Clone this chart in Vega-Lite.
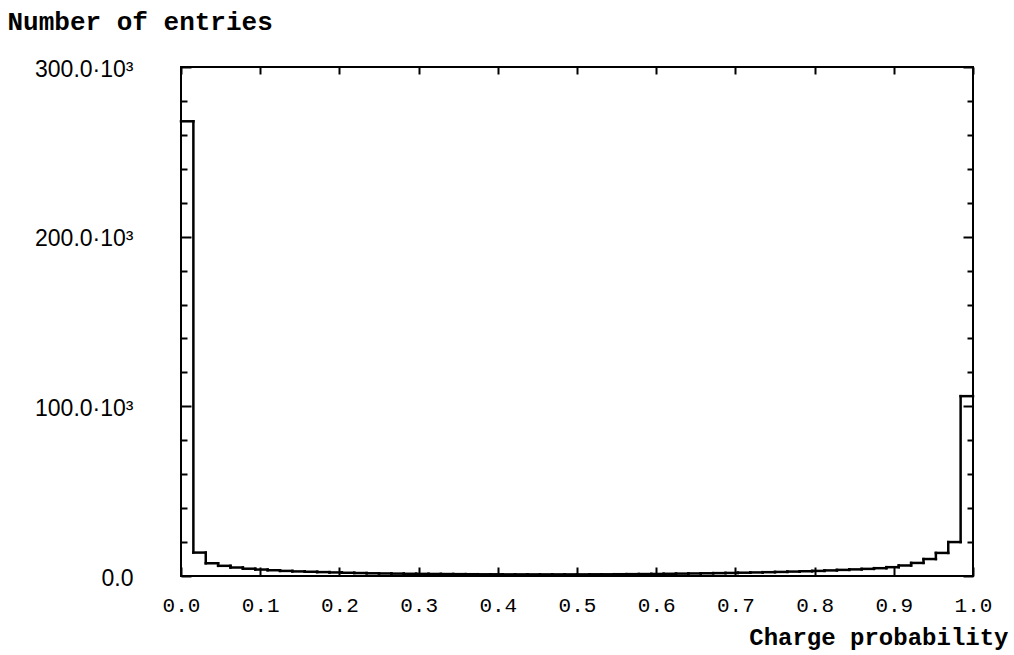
{
  "$schema": "https://vega.github.io/schema/vega-lite/v6.json",
  "width": 792,
  "height": 509,
  "autosize": {"type": "none"},
  "padding": {"left": 181, "top": 67, "right": 41, "bottom": 79},
  "background": "white",
  "config": {
    "view": {"stroke": "black", "strokeWidth": 2},
    "axis": {
      "domain": false,
      "grid": false,
      "tickColor": "black",
      "tickWidth": 2,
      "labelColor": "black",
      "titleColor": "black",
      "labelFont": "Liberation Mono",
      "titleFont": "Liberation Mono",
      "labelFontWeight": "normal",
      "titleFontWeight": "bold"
    }
  },
  "data": {
    "values": [
      {"lo": 0, "hi": 0.015625, "n": 268000},
      {"lo": 0.015625, "hi": 0.03125, "n": 13800},
      {"lo": 0.03125, "hi": 0.046875, "n": 7500},
      {"lo": 0.046875, "hi": 0.0625, "n": 6000},
      {"lo": 0.0625, "hi": 0.078125, "n": 5000},
      {"lo": 0.078125, "hi": 0.09375, "n": 4300},
      {"lo": 0.09375, "hi": 0.109375, "n": 3800},
      {"lo": 0.109375, "hi": 0.125, "n": 3400},
      {"lo": 0.125, "hi": 0.140625, "n": 3000},
      {"lo": 0.140625, "hi": 0.15625, "n": 2700},
      {"lo": 0.15625, "hi": 0.171875, "n": 2500},
      {"lo": 0.171875, "hi": 0.1875, "n": 2300},
      {"lo": 0.1875, "hi": 0.203125, "n": 2100},
      {"lo": 0.203125, "hi": 0.21875, "n": 1900},
      {"lo": 0.21875, "hi": 0.234375, "n": 1750},
      {"lo": 0.234375, "hi": 0.25, "n": 1600},
      {"lo": 0.25, "hi": 0.265625, "n": 1500},
      {"lo": 0.265625, "hi": 0.28125, "n": 1400},
      {"lo": 0.28125, "hi": 0.296875, "n": 1300},
      {"lo": 0.296875, "hi": 0.3125, "n": 1250},
      {"lo": 0.3125, "hi": 0.328125, "n": 1200},
      {"lo": 0.328125, "hi": 0.34375, "n": 1150},
      {"lo": 0.34375, "hi": 0.359375, "n": 1100},
      {"lo": 0.359375, "hi": 0.375, "n": 1050},
      {"lo": 0.375, "hi": 0.390625, "n": 1000},
      {"lo": 0.390625, "hi": 0.40625, "n": 1000},
      {"lo": 0.40625, "hi": 0.421875, "n": 950},
      {"lo": 0.421875, "hi": 0.4375, "n": 950},
      {"lo": 0.4375, "hi": 0.453125, "n": 950},
      {"lo": 0.453125, "hi": 0.46875, "n": 950},
      {"lo": 0.46875, "hi": 0.484375, "n": 950},
      {"lo": 0.484375, "hi": 0.5, "n": 950},
      {"lo": 0.5, "hi": 0.515625, "n": 950},
      {"lo": 0.515625, "hi": 0.53125, "n": 1000},
      {"lo": 0.53125, "hi": 0.546875, "n": 1000},
      {"lo": 0.546875, "hi": 0.5625, "n": 1050},
      {"lo": 0.5625, "hi": 0.578125, "n": 1100},
      {"lo": 0.578125, "hi": 0.59375, "n": 1150},
      {"lo": 0.59375, "hi": 0.609375, "n": 1200},
      {"lo": 0.609375, "hi": 0.625, "n": 1300},
      {"lo": 0.625, "hi": 0.640625, "n": 1400},
      {"lo": 0.640625, "hi": 0.65625, "n": 1500},
      {"lo": 0.65625, "hi": 0.671875, "n": 1600},
      {"lo": 0.671875, "hi": 0.6875, "n": 1700},
      {"lo": 0.6875, "hi": 0.703125, "n": 1800},
      {"lo": 0.703125, "hi": 0.71875, "n": 1950},
      {"lo": 0.71875, "hi": 0.734375, "n": 2100},
      {"lo": 0.734375, "hi": 0.75, "n": 2250},
      {"lo": 0.75, "hi": 0.765625, "n": 2400},
      {"lo": 0.765625, "hi": 0.78125, "n": 2600},
      {"lo": 0.78125, "hi": 0.796875, "n": 2800},
      {"lo": 0.796875, "hi": 0.8125, "n": 3000},
      {"lo": 0.8125, "hi": 0.828125, "n": 3300},
      {"lo": 0.828125, "hi": 0.84375, "n": 3600},
      {"lo": 0.84375, "hi": 0.859375, "n": 3900},
      {"lo": 0.859375, "hi": 0.875, "n": 4200},
      {"lo": 0.875, "hi": 0.890625, "n": 4600},
      {"lo": 0.890625, "hi": 0.90625, "n": 5200},
      {"lo": 0.90625, "hi": 0.921875, "n": 6200},
      {"lo": 0.921875, "hi": 0.9375, "n": 7700},
      {"lo": 0.9375, "hi": 0.953125, "n": 10000},
      {"lo": 0.953125, "hi": 0.96875, "n": 13600},
      {"lo": 0.96875, "hi": 0.984375, "n": 20000},
      {"lo": 0.984375, "hi": 1, "n": 106000}
    ]
  },
  "transform": [
    {"window": [{"op": "lead", "field": "n", "as": "next"}], "sort": [{"field": "lo", "order": "ascending"}]}
  ],
  "resolve": {"axis": {"x": "independent", "y": "independent"}},
  "layer": [
    {
      "mark": {"type": "rule", "color": "black", "strokeWidth": 2.5, "strokeCap": "square"},
      "encoding": {
        "x": {
          "field": "lo", "type": "quantitative",
          "scale": {"domain": [0, 1], "nice": false, "zero": false},
          "axis": {
            "orient": "bottom",
            "values": [0, 0.1, 0.2, 0.3, 0.4, 0.5, 0.6, 0.7, 0.8, 0.9, 1.0],
            "format": ".1f",
            "tickSize": -9,
            "labelPadding": 27,
            "labelFontSize": 21,
            "labelFlush": false,
            "title": "Charge probability",
            "titleFontSize": 24,
            "titleAnchor": "end",
            "titleAlign": "right",
            "titleBaseline": "bottom",
            "titleX": 827,
            "titleY": 73
          }
        },
        "x2": {"field": "hi"},
        "y": {
          "field": "n", "type": "quantitative",
          "scale": {"domain": [0, 300000], "nice": false},
          "axis": {
            "orient": "left",
            "values": [0, 20000, 40000, 60000, 80000, 100000, 120000, 140000, 160000, 180000, 200000, 220000, 240000, 260000, 280000, 300000],
            "labelExpr": "datum.value === 0 ? '0.0' : (datum.value % 100000 === 0 ? format(datum.value / 1000, '.1f') + '·10³' : '')",
            "tickSize": {"condition": {"test": "datum.value % 100000 === 0", "value": -10}, "value": -6},
            "labelPadding": 58,
            "labelFont": "Liberation Sans",
            "labelFontSize": 23,
            "labelFlush": false,
            "labelAlign": "right",
            "labelBaseline": "middle",
            "labelOffset": 2,
            "title": "Number of entries",
            "titleFontSize": 26,
            "titleAngle": 0,
            "titleAlign": "left",
            "titleBaseline": "middle",
            "titleX": -174,
            "titleY": -46
          }
        }
      }
    },
    {
      "transform": [{"filter": "datum.next != null"}],
      "mark": {"type": "rule", "color": "black", "strokeWidth": 2.5, "strokeCap": "square"},
      "encoding": {
        "x": {
          "field": "hi", "type": "quantitative",
          "scale": {"domain": [0, 1], "nice": false, "zero": false},
          "axis": {
            "orient": "top",
            "values": [0, 0.1, 0.2, 0.3, 0.4, 0.5, 0.6, 0.7, 0.8, 0.9, 1.0],
            "labels": false,
            "tickSize": -7,
            "title": null
          }
        },
        "y": {
          "field": "n", "type": "quantitative",
          "scale": {"domain": [0, 300000], "nice": false},
          "axis": {
            "orient": "right",
            "values": [0, 20000, 40000, 60000, 80000, 100000, 120000, 140000, 160000, 180000, 200000, 220000, 240000, 260000, 280000, 300000],
            "labels": false,
            "tickSize": {"condition": {"test": "datum.value % 100000 === 0", "value": -10}, "value": -6},
            "title": null
          }
        },
        "y2": {"field": "next"}
      }
    }
  ]
}
